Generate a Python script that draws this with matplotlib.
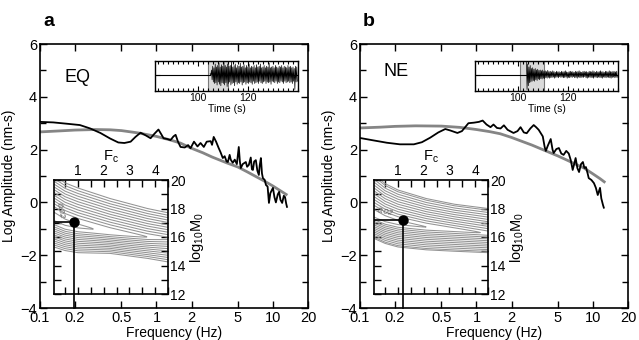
import numpy as np
import matplotlib
matplotlib.use('Agg')
import matplotlib.pyplot as plt
from matplotlib.lines import Line2D
from matplotlib.ticker import FixedLocator, NullLocator, MultipleLocator, FixedFormatter

plt.rcParams['font.family'] = ['Liberation Sans', 'DejaVu Sans']
plt.rcParams['mathtext.fontset'] = 'custom'
plt.rcParams['mathtext.rm'] = 'Liberation Sans'
plt.rcParams['mathtext.it'] = 'Liberation Sans:italic'

# ---------------- data ----------------
panel_labels = ['a', 'b']
event_labels = ['EQ', 'NE']

# observed spectra (Hz, log amplitude)
obs_a_f = [0.10, 0.13, 0.17, 0.22, 0.27, 0.33, 0.40, 0.47, 0.53, 0.60, 0.66, 0.73, 0.80, 0.89, 0.96,
           1.04, 1.10, 1.15, 1.24, 1.32, 1.40, 1.46, 1.53, 1.61, 1.75, 1.87, 1.96, 2.10, 2.25, 2.39,
           2.55, 2.70, 2.92, 3.00, 3.10, 3.25, 3.42, 3.55, 3.71, 3.85, 4.00, 4.10, 4.25, 4.34, 4.52,
           4.70, 4.90, 5.09, 5.20, 5.30, 5.50, 5.85, 6.00, 6.21, 6.45, 6.60, 6.73, 6.90, 7.13, 7.35,
           7.57, 7.70, 7.88, 8.05, 8.20, 8.50, 8.71, 9.00, 9.24, 9.50, 10.0, 10.3, 10.6, 11.0, 11.3,
           11.6, 12.0, 12.4, 12.7, 13.0, 13.2]
obs_a_v = [3.05, 3.03, 2.98, 2.93, 2.80, 2.63, 2.42, 2.27, 2.25, 2.30, 2.48, 2.64, 2.55, 2.43, 2.60,
           2.76, 2.58, 2.43, 2.40, 2.36, 2.50, 2.56, 2.30, 2.10, 2.08, 2.17, 2.05, 2.30, 2.12, 2.25,
           2.10, 2.30, 2.32, 2.18, 2.48, 2.30, 2.06, 1.90, 1.68, 1.75, 1.55, 1.53, 1.80, 1.62, 1.50,
           1.62, 1.45, 2.10, 1.55, 1.30, 1.45, 1.53, 1.35, 1.42, 1.70, 1.25, 1.23, 1.55, 1.60, 1.20,
           1.04, 1.40, 1.68, 1.10, 0.92, 0.85, 0.66, 0.60, -0.02, 0.35, 0.55, 0.20, 0.00, 0.30, 0.40,
           0.10, -0.02, 0.25, 0.20, -0.05, -0.17]
obs_b_f = [0.10, 0.13, 0.17, 0.22, 0.29, 0.34, 0.40, 0.47, 0.54, 0.60, 0.686, 0.75, 0.853, 0.95, 1.05,
           1.13, 1.22, 1.32, 1.40, 1.50, 1.61, 1.72, 1.85, 2.08, 2.25, 2.39, 2.55, 2.70, 2.90, 3.10,
           3.25, 3.42, 3.71, 3.85, 3.94, 4.10, 4.34, 4.50, 4.60, 4.85, 5.10, 5.35, 5.60, 5.90, 6.20,
           6.45, 6.70, 6.90, 7.10, 7.35, 7.60, 7.90, 8.20, 8.45, 8.70, 9.00, 9.20, 9.70, 10.2, 10.6,
           11.0, 11.5, 11.8, 12.2, 12.4]
obs_b_v = [2.44, 2.35, 2.26, 2.20, 2.20, 2.28, 2.45, 2.65, 2.78, 2.72, 2.63, 2.70, 3.00, 3.02, 3.05,
           3.10, 2.95, 2.85, 2.95, 2.82, 2.80, 2.92, 2.75, 2.63, 2.70, 2.85, 2.65, 2.62, 2.80, 2.93,
           2.85, 2.75, 2.50, 2.10, 1.95, 2.15, 2.40, 2.00, 1.87, 2.02, 2.06, 1.85, 1.80, 1.95, 1.85,
           1.60, 1.23, 1.45, 1.68, 1.30, 1.15, 1.45, 1.53, 1.30, 1.34, 1.10, 0.92, 0.85, 0.73, 0.55,
           0.28, 0.55, 0.15, -0.10, -0.20]

# model (fitted) spectra
fit_a_f = [0.1, 0.15, 0.2, 0.3, 0.4, 0.5, 0.7, 1.0, 1.3, 1.6, 2.0, 2.5, 3.0, 4.0, 5.0, 6.0, 7.0, 8.5, 10.0, 11.5, 13.0]
fit_a_v = [2.67, 2.71, 2.74, 2.76, 2.75, 2.72, 2.63, 2.50, 2.37, 2.25, 2.05, 1.88, 1.72, 1.50, 1.34, 1.16, 1.00, 0.80, 0.62, 0.45, 0.30]
fit_b_f = [0.1, 0.15, 0.2, 0.3, 0.5, 0.73, 1.0, 1.3, 1.6, 2.0, 2.5, 3.0, 3.8, 5.0, 6.0, 7.0, 8.4, 10.0, 11.5, 12.5]
fit_b_v = [2.82, 2.85, 2.88, 2.90, 2.89, 2.84, 2.76, 2.68, 2.60, 2.46, 2.30, 2.17, 1.98, 1.76, 1.60, 1.46, 1.30, 1.08, 0.90, 0.78]

# waveforms (time s, normalised amplitude envelope)
wave_a_t = np.arange(105.0, 140.0, 0.5)
wave_a_up = [0.05, 0.30, 0.55, 0.45, 0.70, 0.50, 0.60, 0.75, 0.50, 0.65,
             0.55, 0.80, 0.60, 0.50, 0.70, 0.55, 0.60, 0.85, 0.50, 0.60,
             0.70, 0.45, 0.60, 0.55, 0.75, 0.50, 0.55, 0.65, 0.45, 0.60,
             0.50, 0.70, 0.45, 0.55, 0.50, 0.60, 0.45, 0.65, 0.50, 0.55,
             0.70, 0.45, 0.50, 0.60, 0.45, 0.55, 0.50, 0.75, 0.45, 0.50,
             0.55, 0.45, 0.60, 0.50, 0.45, 0.55, 0.50, 0.60, 0.45, 0.55,
             0.50, 0.45, 0.60, 0.50, 0.55, 0.45, 0.50, 0.40, 0.55, 0.50]
wave_a_lo = [-0.05, -0.35, -0.50, -0.60, -0.55, -0.70, -0.50, -0.65, -0.75, -0.55,
             -0.60, -0.70, -0.55, -0.80, -0.60, -0.50, -0.70, -0.60, -0.55, -0.75,
             -0.50, -0.65, -0.55, -0.60, -0.50, -0.70, -0.55, -0.50, -0.65, -0.55,
             -0.60, -0.50, -0.55, -0.65, -0.45, -0.60, -0.55, -0.50, -0.60, -0.45,
             -0.55, -0.60, -0.50, -0.45, -0.60, -0.50, -0.55, -0.50, -0.65, -0.45,
             -0.50, -0.55, -0.45, -0.60, -0.50, -0.55, -0.45, -0.50, -0.60, -0.45,
             -0.55, -0.50, -0.45, -0.55, -0.50, -0.60, -0.45, -1.00, -0.50, -0.45]
wave_b_t = np.arange(103.5, 140.0, 0.5)
wave_b_up = [0.95, 0.70, 0.50, 0.60, 0.40, 0.45, 0.35, 0.40, 0.30, 0.35,
             0.28, 0.30, 0.25, 0.30, 0.22, 0.25, 0.20, 0.28, 0.20, 0.22,
             0.18, 0.25, 0.20, 0.15, 0.22, 0.18, 0.20, 0.15, 0.22, 0.18,
             0.20, 0.25, 0.18, 0.15, 0.20, 0.22, 0.18, 0.20, 0.15, 0.22,
             0.18, 0.20, 0.25, 0.18, 0.15, 0.20, 0.22, 0.18, 0.20, 0.15,
             0.22, 0.20, 0.18, 0.25, 0.20, 0.15, 0.22, 0.18, 0.20, 0.25,
             0.18, 0.20, 0.15, 0.22, 0.20, 0.18, 0.25, 0.20, 0.18, 0.22,
             0.20, 0.18, 0.22]
wave_b_lo = [-1.00, -0.75, -0.55, -0.50, -0.45, -0.40, -0.45, -0.35, -0.40, -0.30,
             -0.35, -0.28, -0.30, -0.25, -0.28, -0.22, -0.25, -0.20, -0.25, -0.22,
             -0.20, -0.18, -0.25, -0.20, -0.18, -0.22, -0.15, -0.20, -0.18, -0.22,
             -0.20, -0.18, -0.25, -0.20, -0.22, -0.18, -0.20, -0.15, -0.22, -0.20,
             -0.25, -0.18, -0.20, -0.22, -0.18, -0.20, -0.15, -0.22, -0.25, -0.20,
             -0.18, -0.22, -0.20, -0.25, -0.18, -0.20, -0.22, -0.18, -0.20, -0.22,
             -0.25, -0.18, -0.20, -0.22, -0.18, -0.20, -0.22, -0.25, -0.20, -0.18,
             -0.22, -0.20, -0.18]
pre_a_t = [83, 105.0]
pre_b_t = [83, 103.5]
window_a = [104.0, 112.0]
window_b = [101.0, 110.5]

# misfit valley (Fc, log10 M0):
# valley centre line and outermost-contour edges above / below it
valley_a_fc = [0.07, 0.5, 1.0, 2.25, 3.7, 4.5]
valley_a_center = [17.40, 17.00, 16.75, 16.35, 16.00, 15.90]
valley_a_upper = [20.30, 19.80, 19.44, 18.70, 18.00, 17.70]
valley_a_lower = [15.30, 15.05, 14.90, 14.85, 14.50, 14.25]
valley_a_slope = 0.0625
levels_a = [0.12, 0.25, 0.32, 0.385, 0.45, 0.515, 0.58, 0.645, 0.71, 0.775, 0.84, 0.905, 0.97]
valley_b_fc = [0.07, 0.5, 1.0, 2.1, 3.2, 4.5]
valley_b_center = [17.60, 17.25, 17.00, 16.70, 16.50, 16.25]
valley_b_upper = [20.40, 19.75, 19.30, 18.70, 18.30, 18.00]
valley_b_lower = [15.90, 15.55, 15.30, 15.10, 15.00, 14.90]
valley_b_slope = 0.0476
levels_b = [0.12, 0.22, 0.29, 0.36, 0.43, 0.50, 0.57, 0.64, 0.71, 0.78, 0.85, 0.92, 0.97]
best_a = (0.84, 17.05)
best_b = (1.19, 17.20)

freq_ticks = [0.1, 0.2, 0.5, 1, 2, 5, 10, 20]
freq_ticklabels = ['0.1', '0.2', '0.5', '1', '2', '5', '10', '20']

# ---------------- figure ----------------
fig = plt.figure(figsize=(6.39, 3.40), dpi=100)
W, H = 639.0, 340.0

def fr(x0, y0, x1, y1):
    return [x0 / W, 1 - y1 / H, (x1 - x0) / W, (y1 - y0) / H]

panels = [
    dict(off=0, lab='a', ev='EQ', of=obs_a_f, ov=obs_a_v, ff=fit_a_f, fv=fit_a_v,
         wt=wave_a_t, wu=wave_a_up, wl=wave_a_lo, pt=pre_a_t, win=window_a,
         vf=valley_a_fc, vc=valley_a_center, vu=valley_a_upper, vl=valley_a_lower,
         vs=valley_a_slope, lev=levels_a, best=best_a,
         lbl_xy=(0.3, 17.85), lbl_rot=-78, ev_xy=(0.093, 0.875)),
    dict(off=320, lab='b', ev='NE', of=obs_b_f, ov=obs_b_v, ff=fit_b_f, fv=fit_b_v,
         wt=wave_b_t, wu=wave_b_up, wl=wave_b_lo, pt=pre_b_t, win=window_b,
         vf=valley_b_fc, vc=valley_b_center, vu=valley_b_upper, vl=valley_b_lower,
         vs=valley_b_slope, lev=levels_b, best=best_b,
         lbl_xy=(0.5, 17.72), lbl_rot=-12, ev_xy=(0.086, 0.894)),
]

for p in panels:
    o = p['off']
    ax = fig.add_axes(fr(40 + o, 44, 308 + o, 308))
    ax.set_xscale('log')
    ax.set_xlim(0.1, 20)
    ax.set_ylim(-4, 6)
    ax.xaxis.set_major_locator(FixedLocator(freq_ticks))
    ax.xaxis.set_major_formatter(FixedFormatter(freq_ticklabels))
    ax.xaxis.set_minor_locator(NullLocator())
    ax.yaxis.set_major_locator(MultipleLocator(2))
    ax.yaxis.set_minor_locator(MultipleLocator(1))
    ax.tick_params(which='both', direction='in', top=True, right=True, labelsize=10.5, width=1.0, pad=2)
    ax.tick_params(which='major', length=5)
    ax.tick_params(which='minor', length=4)
    for s in ax.spines.values():
        s.set_linewidth(1.2)
    ax.plot(p['ff'], p['fv'], color='#858585', lw=2.0, zorder=2)
    ax.plot(p['of'], p['ov'], color='black', lw=1.3, zorder=3)
    ax.set_xlabel('Frequency (Hz)', fontsize=10, labelpad=1)
    ax.set_ylabel('Log Amplitude (nm-s)', fontsize=10, labelpad=3)
    ax.text(p['ev_xy'][0], p['ev_xy'][1], p['ev'], transform=ax.transAxes, fontsize=13,
            ha='left', va='center')
    fig.text((49 + o) / W, 1 - 22 / H, p['lab'], fontsize=14, fontweight='bold', ha='center', va='center')

    # waveform inset
    aw = fig.add_axes(fr(155 + o, 61, 298 + o, 91))
    aw.set_xlim(83, 140)
    aw.set_ylim(-1.1, 0.9)
    aw.axvspan(p['win'][0], p['win'][1], color='#dadada', lw=0, zorder=0)
    for tv in p['win']:
        aw.axvline(tv, color='#7a7a7a', lw=0.8, zorder=1)
    aw.plot(p['pt'], [0, 0], color='black', lw=0.8, zorder=2)
    wt = np.asarray(p['wt'])
    tz = np.column_stack([wt, wt + 0.25]).ravel()
    vz = np.column_stack([p['wu'], p['wl']]).ravel()
    aw.plot(tz, vz, color='black', lw=0.5, zorder=2)
    aw.xaxis.set_major_locator(FixedLocator([100, 120]))
    aw.xaxis.set_minor_locator(MultipleLocator(2))
    aw.yaxis.set_major_locator(FixedLocator([0]))
    aw.yaxis.set_minor_locator(NullLocator())
    aw.tick_params(which='both', direction='in', top=True, right=True, labelleft=False,
                   labelsize=7.5, pad=1.5, width=0.8)
    aw.tick_params(which='major', length=3.5)
    aw.tick_params(which='minor', length=2.5)
    aw.set_xlabel('Time (s)', fontsize=7.5, labelpad=1)
    for s in aw.spines.values():
        s.set_linewidth(1.0)

    # contour inset
    ac = fig.add_axes(fr(54 + o, 180, 168 + o, 294))
    ac.set_xlim(0.07, 4.5)
    ac.set_ylim(12, 20)
    F = np.linspace(0.07, 4.5, 400)
    M = np.linspace(12, 20, 400)
    FF, MM = np.meshgrid(F, M)
    lmax = p['lev'][-1]
    g = p['vs'] * FF
    cc = np.interp(FF, p['vf'], p['vc'])
    wu = (np.interp(FF, p['vf'], p['vu']) - cc) / (lmax - g)
    wl = (cc - np.interp(FF, p['vf'], p['vl'])) / (lmax - g)
    d = np.where(MM >= cc, (MM - cc) / wu, (cc - MM) / wl)
    Z = np.sqrt(d ** 2 + 0.0004) + g
    ac.contour(FF, MM, Z, levels=p['lev'], colors='#939393', linewidths=0.75)
    bx, by = p['best']
    ac.plot([0.07, bx], [by, by], color='black', lw=1.2, zorder=4)
    ac.plot([bx], [by], 'o', color='black', ms=6.5, zorder=5)
    ac.text(p['lbl_xy'][0], p['lbl_xy'][1], '0.02', fontsize=6, color='#555555',
            rotation=p['lbl_rot'], ha='center', va='center', style='italic')
    ac.xaxis.tick_top()
    ac.xaxis.set_label_position('top')
    ac.yaxis.tick_right()
    ac.yaxis.set_label_position('right')
    ac.xaxis.set_major_locator(FixedLocator([1, 2, 3, 4]))
    ac.xaxis.set_minor_locator(MultipleLocator(0.5))
    ac.yaxis.set_major_locator(MultipleLocator(2))
    ac.yaxis.set_minor_locator(MultipleLocator(1))
    ac.tick_params(which='both', direction='in', top=True, bottom=True, left=True, right=True,
                   labeltop=True, labelbottom=False, labelleft=False, labelright=True,
                   labelsize=10, pad=1.5, width=1.0)
    ac.tick_params(which='major', length=5)
    ac.tick_params(which='minor', length=5)
    ac.set_xlabel(r'F$_\mathrm{c}$', fontsize=10.5, labelpad=2.5)
    ac.set_ylabel(r'log$_{10}$M$_0$', fontsize=10.5, labelpad=2, rotation=90)
    for s in ac.spines.values():
        s.set_linewidth(1.2)

    # vertical line from best-fit point down to the main axis bottom
    xd, yd = ac.transData.transform((bx, by))
    xf, yf = fig.transFigure.inverted().transform((xd, yd))
    _, ybot = fig.transFigure.inverted().transform(ax.transAxes.transform((0, 0)))
    fig.add_artist(Line2D([xf, xf], [ybot, yf], transform=fig.transFigure, color='black', lw=1.2, zorder=10))

fig.savefig('out.png', dpi=100)
